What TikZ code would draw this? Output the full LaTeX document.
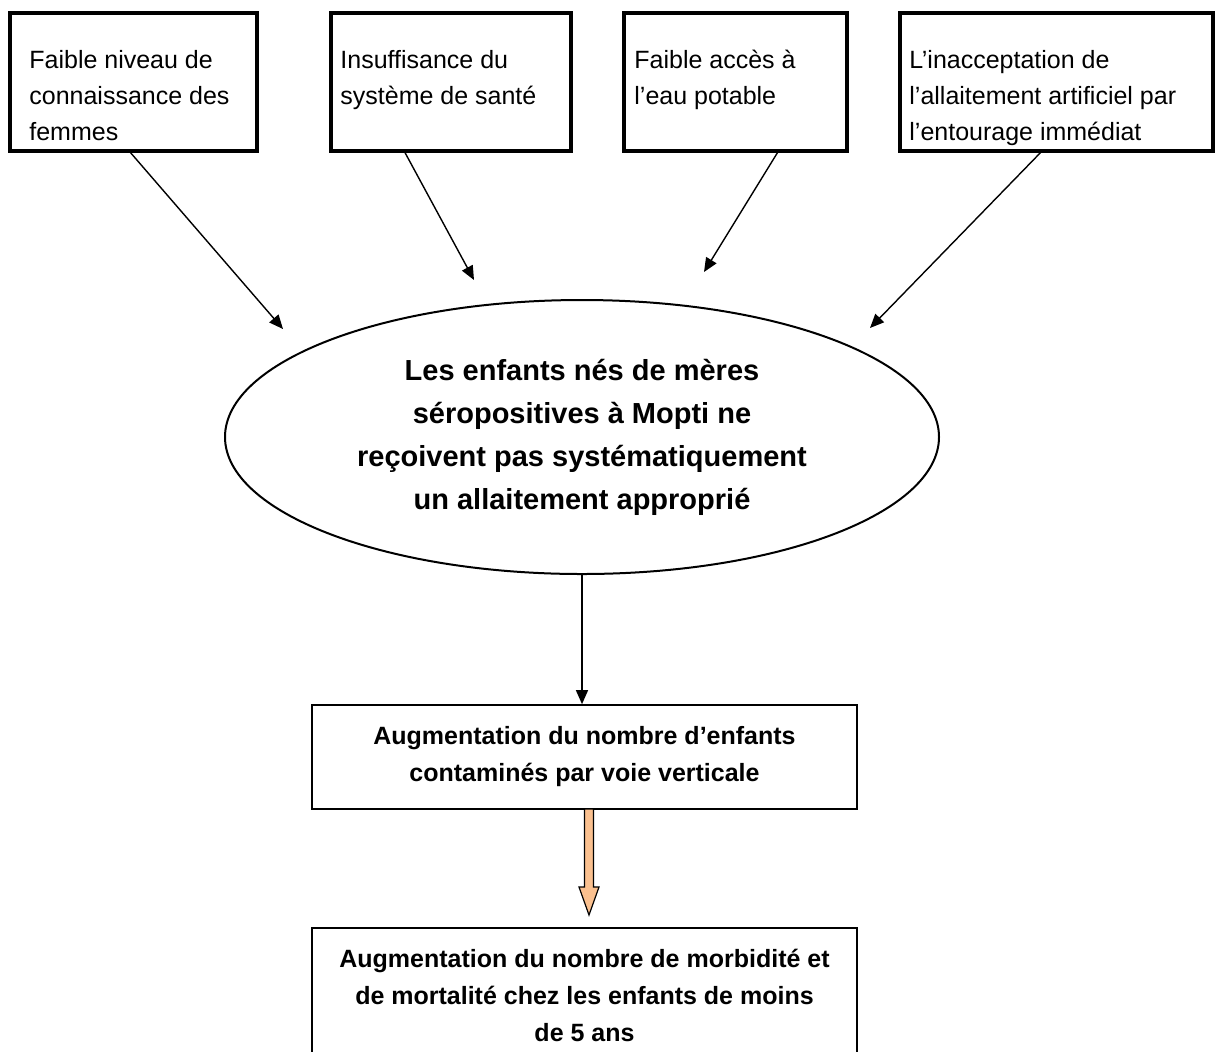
\documentclass[tikz,border=0pt]{standalone}
\usepackage{fontspec}
\setmainfont{Liberation Sans}
\usetikzlibrary{arrows.meta,shapes.geometric}
\definecolor{peach}{RGB}{250,192,143}
\begin{document}
\begin{tikzpicture}
  [x=0.5pt,y=-0.5pt,
   cause/.style={draw,line width=1.6pt,minimum height=69pt,inner sep=0pt},
   causetext/.style={anchor=north west,inner sep=0pt,align=left,font=\fontsize{12.5pt}{18pt}\selectfont},
   effect/.style={draw,line width=0.85pt,minimum width=272.5pt,inner sep=0pt,align=center,font=\fontsize{12.5pt}{18.5pt}\selectfont\bfseries},
   link/.style={line width=0.7pt,-{Triangle[length=7pt,width=6pt]}}]
  \useasboundingbox (0,0) rectangle (1215,1051);
  \clip (0,0) rectangle (1215,1051);
  \node[cause,minimum width=123.5pt] (b1) at (133.5,82) {};
  \node[cause,minimum width=120pt] (b2) at (451,82) {};
  \node[cause,minimum width=111.5pt] (b3) at (735.5,82) {};
  \node[cause,minimum width=156.5pt] (b4) at (1056.5,82) {};
  \node[causetext] (l1) at (29,50) {Faible niveau de\\connaissance des\\femmes};
  \node[causetext] (l2) at (340,50) {Insuffisance du\\système de santé};
  \node[causetext] (l3) at (634,50) {Faible accès à\\l’eau potable};
  \node[causetext] (l4) at (909,50) {L’inacceptation de\\l’allaitement artificiel par\\l’entourage immédiat};

  \node[draw,ellipse,line width=1pt,minimum width=357pt,minimum height=137pt,inner sep=0pt,
    align=center,font=\fontsize{14.5pt}{21.5pt}\selectfont\bfseries] (ell) at (582,437)
    {Les enfants nés de mères\\séropositives à Mopti ne\\reçoivent pas systématiquement\\un allaitement approprié};

  \node[effect,minimum height=52pt] (b5) at (584.5,757)
    {Augmentation du nombre d’enfants\\contaminés par voie verticale};
  \node[effect,minimum height=67.5pt] (b6) at (584.5,995.5)
    {Augmentation du nombre de morbidité et\\de mortalité chez les enfants de moins\\de 5 ans};

  \coordinate (t1) at (283,329);
  \coordinate (t2) at (474,280);
  \coordinate (t3) at (704,272);
  \coordinate (t4) at (870,328);
  \coordinate (s1) at ([xshift=-1.5pt]b1.south);
  \coordinate (s2) at ([xshift=-23pt]b2.south);
  \coordinate (s3) at ([xshift=21pt]b3.south);
  \coordinate (s4) at ([xshift=-8pt]b4.south);

  \foreach \from/\to in {s1/t1,s2/t2,s3/t3,s4/t4}
    \draw[link] (\from) -- (\to);
  \draw[link] (ell.south) -- (ell.south |- b5.north);

  \draw[line width=0.6pt,fill=peach] (584.5,809) -- (584.5,887) -- (579,887) -- (589,915)
    -- (599,887) -- (593.5,887) -- (593.5,809) -- cycle;

\end{tikzpicture}
\end{document}
